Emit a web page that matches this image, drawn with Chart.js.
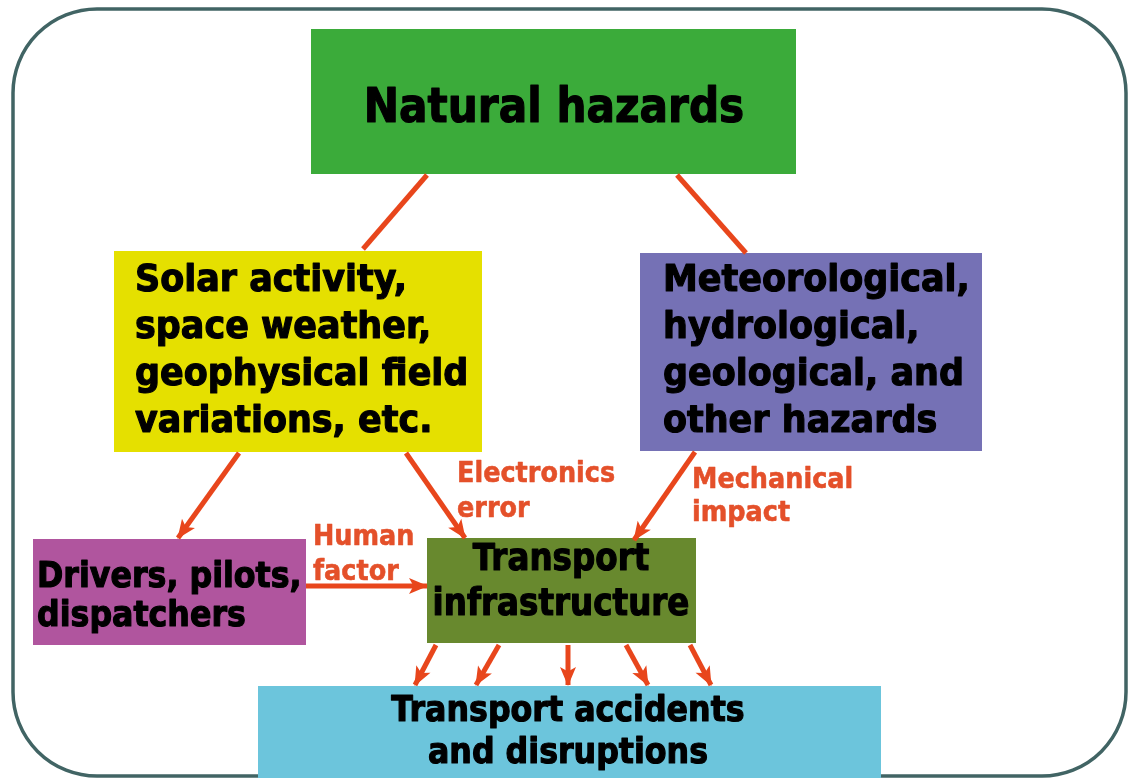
<!DOCTYPE html>
<html>
<head>
<meta charset="utf-8">
<script src="https://cdn.jsdelivr.net/npm/chart.js@4.4.1/dist/chart.umd.min.js"></script>
<style>
  html, body { margin: 0; padding: 0; background: #ffffff; }
  #wrap { width: 1132px; height: 778px; }
</style>
</head>
<body>
<div id="wrap"><canvas id="diagram" width="1132" height="778"></canvas></div>
<script>
// nodes of the diagram, in layout units (x to the right, y downwards)
const nodeNames = ['hazards', 'solar', 'meteo', 'drivers', 'infra', 'accidents'];
const nodeLeft   = [311, 114, 640,  33, 427, 258];
const nodeTop    = [ 29, 251, 253, 539, 538, 686];
const nodeRight  = [796, 482, 982, 306, 696, 881];
const nodeBottom = [174, 452, 451, 645, 643, 778];
const nodeLines = [
    ['Natural hazards'],
    ['Solar activity,', 'space weather,', 'geophysical field', 'variations, etc.'],
    ['Meteorological,', 'hydrological,', 'geological, and', 'other hazards'],
    ['Drivers, pilots,', 'dispatchers'],
    ['Transport', 'infrastructure'],
    ['Transport accidents', 'and disruptions']
];
const nodeTextX = [554, 135, 663, 37, 561, 568];
const nodeBaselines = [
    [122],
    [291, 338, 385, 432],
    [291, 338, 385, 432],
    [587, 626],
    [570, 615],
    [721, 763]
];

// connections
const arrowFrom = [[427, 175], [677, 175], [239, 453], [406, 453], [695, 452], [306, 586],
                   [436, 645], [499, 645], [568, 645], [626, 645], [690, 645]];
const arrowTo   = [[363, 249], [746, 253], [178, 538], [465, 538], [634, 540], [427, 586],
                   [415, 685], [476, 685], [568, 685], [648, 685], [711, 685]];
const arrowHasHead = [false, false, true, true, true, true, true, true, true, true, true];

// edge labels
const labelLines = [['Electronics', 'error'], ['Mechanical', 'impact'], ['Human', 'factor']];
const labelX = [457, 692, 313];
const labelBaselines = [[482, 517], [488, 521], [545, 580]];

// styles
const nodeColors = ['#3bab3a', '#e5e000', '#7571b5', '#b0559e', '#68892e', '#6cc5dc'];
const nodeAlign = ['center', 'left', 'left', 'left', 'center', 'center'];
const nodeFontSize = [48, 38, 38, 36, 37, 36];
const nodeSqueeze = [0.88, 0.92, 0.92, 0.88, 0.88, 0.88];
const arrowColor = '#e8461c';
const labelColor = '#e4502a';
const frameColor = '#416464';

function drawText(ctx, txt, x, y, size, align, color, squeeze, weight) {
    ctx.save();
    ctx.font = 'bold ' + size + 'px "DejaVu Sans"';
    ctx.fillStyle = color;
    ctx.strokeStyle = color;
    ctx.lineWidth = weight;
    ctx.lineJoin = 'round';
    ctx.textAlign = align;
    ctx.textBaseline = 'alphabetic';
    ctx.translate(x, y);
    ctx.scale(squeeze, 1);
    ctx.fillText(txt, 0, 0);
    if (weight > 0) ctx.strokeText(txt, 0, 0);
    ctx.restore();
}

const diagramPlugin = {
    id: 'diagram',
    beforeDatasetsDraw(chart) {
        const ctx = chart.ctx;
        const sx = chart.scales.x, sy = chart.scales.y;
        // outer frame
        ctx.save();
        ctx.strokeStyle = frameColor;
        ctx.lineWidth = 3.5;
        ctx.beginPath();
        ctx.roundRect(sx.getPixelForValue(13), sy.getPixelForValue(9),
            sx.getPixelForValue(1126) - sx.getPixelForValue(13),
            sy.getPixelForValue(776) - sy.getPixelForValue(9), 84);
        ctx.stroke();
        ctx.restore();
        // boxes
        nodeNames.forEach((name, i) => {
            const x0 = sx.getPixelForValue(nodeLeft[i]);
            const x1 = sx.getPixelForValue(nodeRight[i]);
            const y0 = sy.getPixelForValue(nodeTop[i]);
            const y1 = sy.getPixelForValue(nodeBottom[i]);
            ctx.fillStyle = nodeColors[i];
            ctx.fillRect(x0, y0, x1 - x0, y1 - y0);
        });
    },
    afterDatasetsDraw(chart) {
        const ctx = chart.ctx;
        const sx = chart.scales.x, sy = chart.scales.y;
        // arrow heads
        chart.data.datasets.forEach((ds, i) => {
            if (!arrowHasHead[i]) return;
            const pts = chart.getDatasetMeta(i).data;
            const a = pts[0], b = pts[1];
            const ang = Math.atan2(b.y - a.y, b.x - a.x);
            const len = 18, half = 8;
            ctx.save();
            ctx.fillStyle = arrowColor;
            ctx.translate(b.x, b.y);
            ctx.rotate(ang);
            ctx.beginPath();
            ctx.moveTo(1, 0);
            ctx.lineTo(-len, -half);
            ctx.lineTo(-len * 0.75, 0);
            ctx.lineTo(-len, half);
            ctx.closePath();
            ctx.fill();
            ctx.restore();
        });
        // node texts
        nodeLines.forEach((lines, i) => {
            lines.forEach((line, j) => {
                drawText(ctx, line, sx.getPixelForValue(nodeTextX[i]),
                    sy.getPixelForValue(nodeBaselines[i][j]), nodeFontSize[i], nodeAlign[i],
                    '#000000', nodeSqueeze[i], 1.2);
            });
        });
        // edge labels
        labelLines.forEach((lines, i) => {
            lines.forEach((line, j) => {
                drawText(ctx, line, sx.getPixelForValue(labelX[i]),
                    sy.getPixelForValue(labelBaselines[i][j]), 29, 'left', labelColor, 0.88, 0.6);
            });
        });
    }
};

const datasets = arrowFrom.map((p, i) => ({
    label: 'arrow' + i,
    data: [{ x: p[0], y: p[1] }, { x: arrowTo[i][0], y: arrowTo[i][1] }],
    showLine: true,
    borderColor: arrowColor,
    borderWidth: 5,
    borderCapStyle: 'butt',
    pointRadius: 0,
    fill: false
}));

new Chart(document.getElementById('diagram'), {
    type: 'scatter',
    data: { datasets: datasets },
    options: {
        responsive: false,
        animation: false,
        layout: { padding: 0 },
        plugins: { legend: { display: false }, tooltip: { enabled: false } },
        scales: {
            x: { type: 'linear', min: 0, max: 1132, display: false },
            y: { type: 'linear', min: 0, max: 778, reverse: true, display: false }
        }
    },
    plugins: [diagramPlugin]
});
</script>
</body>
</html>
